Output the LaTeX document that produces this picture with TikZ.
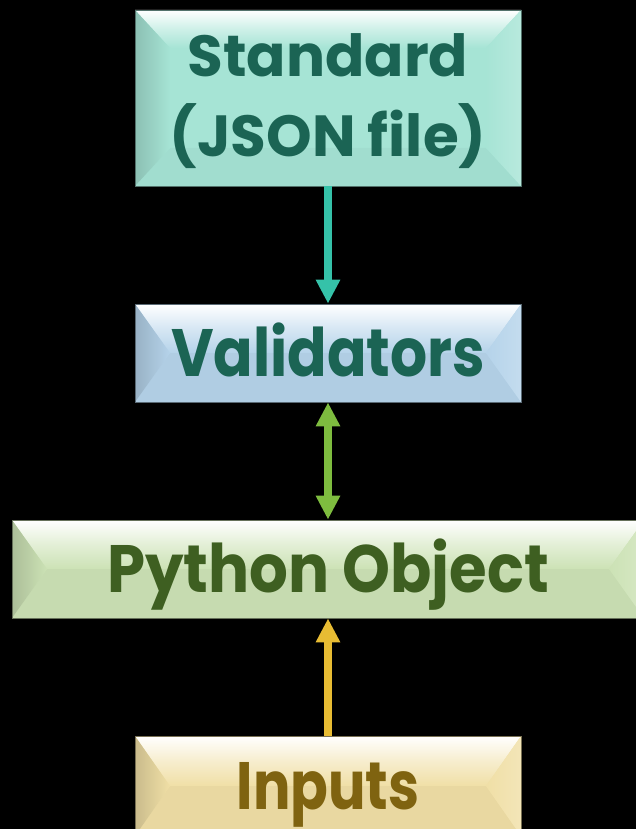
\documentclass[tikz,border=0pt]{standalone}
\usepackage{fontspec}
\usepackage{graphicx}
\setmainfont{Poppins}
\usetikzlibrary{arrows.meta,calc}

\definecolor{tealbase}{HTML}{A6E4D5}
\definecolor{tealtext}{HTML}{1B6454}
\definecolor{bluebase}{HTML}{B5D3EA}
\definecolor{greenbase}{HTML}{CCE2B5}
\definecolor{greentext}{HTML}{3E5F21}
\definecolor{goldbase}{HTML}{F0DFA6}
\definecolor{goldtext}{HTML}{7F6310}
\definecolor{tealarrow}{HTML}{35C2A9}
\definecolor{greenarrow}{HTML}{7EBC3F}
\definecolor{goldarrow}{HTML}{E8BC33}

\tikzset{
  % box with a bevelled frame: #1 base colour, #2 vertical bevel depth
  bevelbox/.style 2 args={
    rectangle, inner sep=0pt, fill=#1, draw=#1!50!black, line width=0.8pt,
    align=center, text height=47pt, text depth=0pt,
    path picture={
      \coordinate (bb-sw) at (path picture bounding box.south west);
      \coordinate (bb-ne) at (path picture bounding box.north east);
      \coordinate (bb-nw) at (path picture bounding box.north west);
      \coordinate (bb-se) at (path picture bounding box.south east);
      \coordinate (in-nw) at ($(bb-nw)+(35pt,-#2)$);
      \coordinate (in-ne) at ($(bb-ne)+(-35pt,-#2)$);
      \coordinate (in-sw) at ($(bb-sw)+(35pt,#2)$);
      \coordinate (in-se) at ($(bb-se)+(-35pt,#2)$);
      % bottom face
      \fill[#1!97!black] (bb-sw) -- (in-sw) -- (in-se) -- (bb-se) -- cycle;
      % top face
      \shade[top color=white, bottom color=#1, middle color=#1!55!white]
        (bb-nw) -- (bb-ne) -- (in-ne) -- (in-nw) -- cycle;
      % left face
      \shade[left color=#1!84!black, right color=#1]
        (bb-nw) -- (in-nw) -- (in-sw) -- (bb-sw) -- cycle;
      % right face
      \shade[left color=#1, right color=#1!80!white]
        (bb-ne) -- (in-ne) -- (in-se) -- (bb-se) -- cycle;
    }
  },
  boxfont/.style={font=\bfseries\fontsize{#1}{80}\selectfont},
  flowarrow/.style={line width=8pt,
    arrows={-Triangle[width=23pt,length=24pt]}},
  flowarrows/.style={line width=8pt,
    arrows={Triangle[width=23pt,length=24pt]-Triangle[width=23pt,length=24pt]}}
}

\begin{document}
\begin{tikzpicture}[x=1pt,y=-1pt]
  \fill[black] (0,0) rectangle (636,829);
  \useasboundingbox (0,0) rectangle (636,829);
  \clip (0,0) rectangle (636,829);

  \node[bevelbox={tealbase}{38pt}, minimum width=386pt, minimum height=176pt,
        text=tealtext, boxfont=58, text height=118pt]
        (std) at (328,98) {Standard\\(JSON file)};
  \node[bevelbox={bluebase}{49pt}, minimum width=386pt, minimum height=98pt,
        text=tealtext, boxfont=67]
        (val) at (328,353) {\scalebox{0.87}[1]{Validators}};
  \node[bevelbox={greenbase}{49pt}, minimum width=632pt, minimum height=98pt,
        text=greentext, boxfont=67]
        (obj) at (328,569) {\scalebox{0.91}[1]{Python Object}};
  \node[bevelbox={goldbase}{50pt}, minimum width=386pt, minimum height=100pt,
        text=goldtext, boxfont=67]
        (inp) at (328,786) {\scalebox{0.83}[1]{Inputs}};

  \draw[flowarrow, tealarrow] (std.south) -- (val.north);
  \draw[flowarrows, greenarrow] (val.south) -- (obj.north);
  \draw[flowarrow, goldarrow] (inp.north) -- (obj.south);
\end{tikzpicture}
\end{document}
